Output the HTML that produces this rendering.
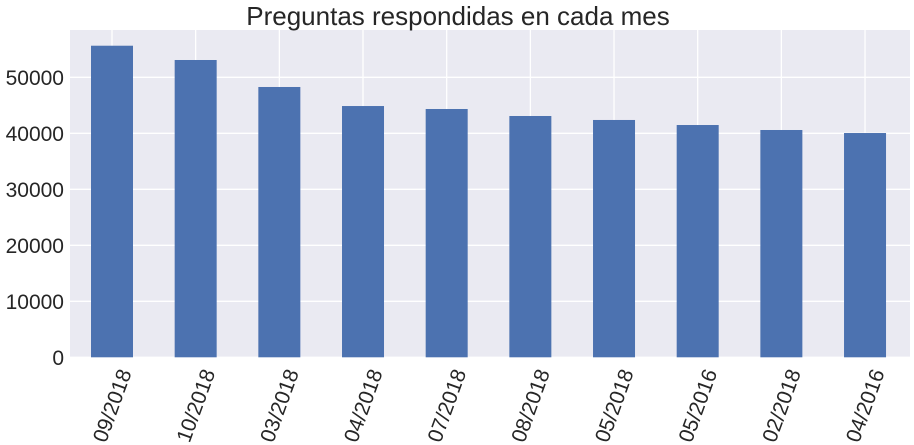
<!DOCTYPE html>
<html><head><meta charset="utf-8"><style>
html,body{margin:0;padding:0;background:#fff;}
svg{display:block;font-family:"Liberation Sans","DejaVu Sans",sans-serif;}
</style></head><body>
<svg id="chart" width="914" height="445">
<rect x="70" y="30" width="840" height="327" fill="#eaeaf2"/>
<g id="grid"></g><g id="bars"></g><g id="yt"></g><g id="xt"></g>
<text x="458" y="25" font-size="26" text-anchor="middle" fill="#262626">Preguntas respondidas en cada mes</text>
</svg>
<script>
const categories=["09/2018","10/2018","03/2018","04/2018","07/2018","08/2018","05/2018","05/2016","02/2018","04/2016"];
const values=[55640,53090,48270,44870,44340,43090,42380,41480,40590,40050];
const yTicks=[0,10000,20000,30000,40000,50000];
const NS="http://www.w3.org/2000/svg";
const L=70,R=910,T=30,B=357.3;
const yMax=(B-T)/5.6e-3;
const y=v=>B-v*(B-T)/yMax;
const step=83.67;
const x0=112;
const x=i=>x0+step*i;
function mk(t,a,p){const e=document.createElementNS(NS,t);for(const k in a)e.setAttribute(k,a[k]);p.appendChild(e);return e;}
const g=document.getElementById('grid'),bg=document.getElementById('bars'),yt=document.getElementById('yt'),xt=document.getElementById('xt');
yTicks.forEach(v=>{
 const l=mk('line',{x1:L,x2:R,y1:y(v),y2:y(v),stroke:'#fff','stroke-width':1.3},g);
 
 
 const t=mk('text',{x:64,y:y(v)+7.5,'font-size':21,'text-anchor':'end',fill:'#262626'},yt);
 t.textContent=v;
 
 
});
categories.forEach((c,i)=>{
 const l=mk('line',{x1:x(i),x2:x(i),y1:T,y2:B,stroke:'#fff','stroke-width':1.3},g);
 
 
 const r=mk('rect',{x:x(i)-21,width:42,y:y(values[i]),height:B-y(values[i]),fill:'#4c72b0'},bg);
 
 
 const t=mk('text',{x:x(i)+6,y:B+10,'font-size':21,'text-anchor':'end',fill:'#262626',transform:`rotate(-70 ${x(i)+6} ${B+10})`},xt);
 t.setAttribute('dy','0.7em');
 t.textContent=c;
 
 
});
</script>
</body></html>
